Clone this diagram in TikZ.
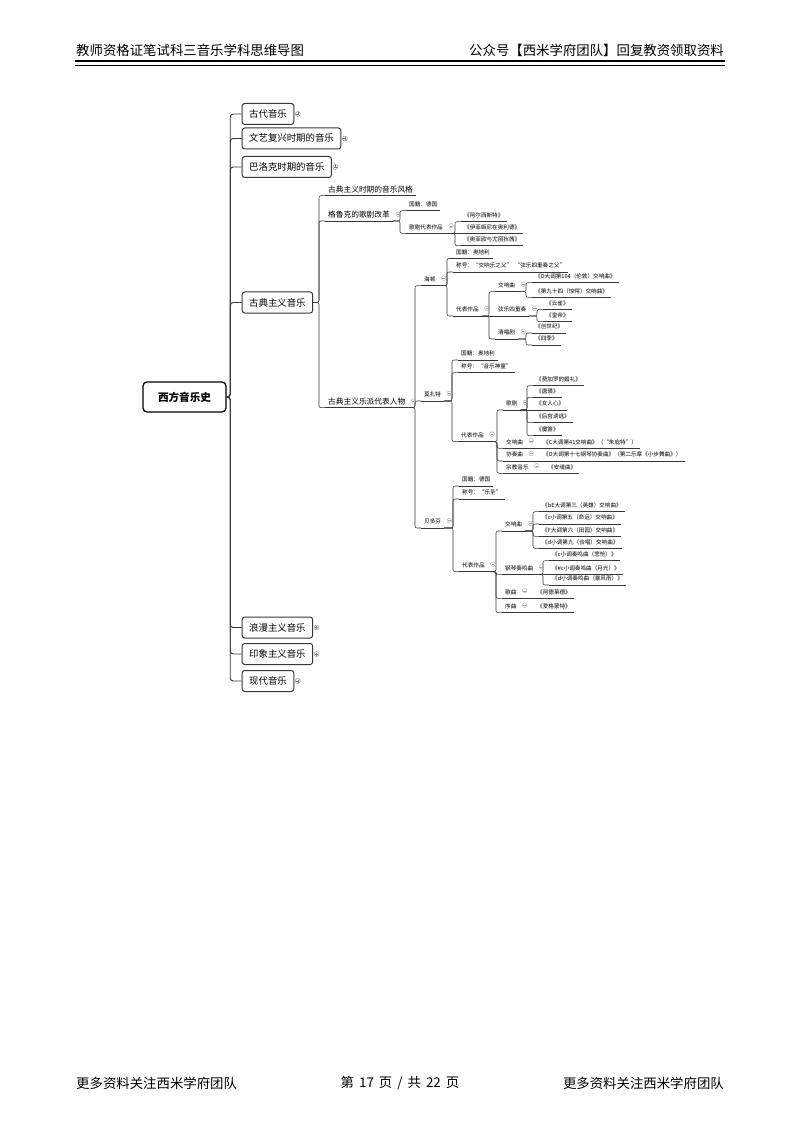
\documentclass[tikz,border=0pt]{standalone}
\usepackage{fontspec}
\setmainfont{Noto Sans CJK SC}
\definecolor{mmline}{RGB}{55,55,55}
\definecolor{mmfold}{RGB}{160,160,160}
\usetikzlibrary{positioning}

\begin{document}
\begin{tikzpicture}[x=1pt,y=-1pt,
  hdr/.style={inner sep=0pt,font=\fontsize{13.4pt}{15pt}\selectfont},
  rootbox/.style={draw=black,line width=1.3pt,rounded corners=4pt,minimum height=30pt,inner xsep=15pt,
    font=\fontsize{10.6pt}{12pt}\selectfont\bfseries},
  topic/.style={draw=mmline,line width=1pt,rounded corners=2.5pt,minimum height=21pt,inner xsep=7pt,anchor=west,
    text height=0.85em,text depth=0.15em,font=\fontsize{9.4pt}{11pt}\selectfont},
  uline/.style={append after command={(\tikzlastnode.south west) edge[draw=mmline,line width=0.55pt] (\tikzlastnode.south east)}},
  subtopic/.style={anchor=south west,inner xsep=3pt,inner ysep=1.5pt,text height=0.85em,text depth=0.15em,
    font=\fontsize{7.7pt}{9pt}\selectfont,uline},
  leaf/.style={anchor=south west,inner xsep=3pt,inner ysep=2.4pt,text height=0.85em,text depth=0.15em,
    font=\fontsize{5.6pt}{6.5pt}\selectfont,uline},
  trunk/.style={draw=mmline,line width=0.9pt,rounded corners=3pt},
  conn/.style={draw=mmline,line width=0.55pt,rounded corners=2pt},
  foldmin/.style={circle,draw=mmfold,line width=0.35pt,minimum size=4.6pt,inner sep=0pt,
    path picture={\draw[mmfold,line width=0.35pt] ([xshift=-1.3pt]path picture bounding box.center) -- ([xshift=1.3pt]path picture bounding box.center);}},
  foldplus/.style={circle,draw=gray,line width=0.4pt,minimum size=5pt,inner sep=0pt,
    path picture={\draw[gray,line width=0.4pt] ([xshift=-1.5pt]path picture bounding box.center) -- ([xshift=1.5pt]path picture bounding box.center)
      ([yshift=-1.5pt]path picture bounding box.center) -- ([yshift=1.5pt]path picture bounding box.center);}}
]
  \fill[white] (0,0) rectangle (800,1131);
  \useasboundingbox (0,0) rectangle (800,1131);

  % page header and footer
  \node[hdr,anchor=west] (hl) at (76,50) {教师资格证笔试科三音乐学科思维导图};
  \node[hdr,anchor=east] (hr) at (724,50) {公众号【西米学府团队】回复教资领取资料};
  \draw[line width=1.8pt] (75,61) -- (725,61);
  \draw[line width=0.7pt] (75,65.3) -- (725,65.3);
  \node[hdr,anchor=west] (fl) at (76,1083) {更多资料关注西米学府团队};
  \node[hdr] (fc) at (400,1083) {第\hspace{5pt}17\hspace{5pt}页\hspace{5pt}/\hspace{5pt}共\hspace{5pt}22\hspace{5pt}页};
  \node[hdr,anchor=east] (fr) at (724,1083) {更多资料关注西米学府团队};

  % main topics
  \node[rootbox] (west) at (184.5,397) {西方音乐史};
  \node[topic] (k1) at (241.7,114) {古代音乐};
  \node[topic] (k2) at (241.7,138.5) {文艺复兴时期的音乐};
  \node[topic] (k3) at (241.7,167) {巴洛克时期的音乐};
  \node[topic] (k4) at (241.7,302.5) {古典主义音乐};
  \node[topic] (k5) at (241.7,627.5) {浪漫主义音乐};
  \node[topic] (k6) at (241.7,654) {印象主义音乐};
  \node[topic] (k7) at (241.7,681) {现代音乐};
  \foreach \k in {k1,k2,k3,k4,k5,k6,k7}
    \draw[trunk] (west.east) -| ([xshift=-11.5pt]\k.west) -- (\k.west);
  \foreach \k in {k1,k2,k3,k5,k6,k7}
    \node[foldplus] (\k-f) at ([xshift=3.5pt]\k.east) {};

  % Classicism
  \node[subtopic] (s1) at (325,195.7) {古典主义时期的音乐风格};
  \node[subtopic] (s2) at (325,221) {格鲁克的歌剧改革};
  \node[subtopic] (s3) at (325,407.7) {古典主义乐派代表人物};
  \foreach \c in {s1,s2,s3}
    \draw[conn] (k4.east) -| ([xshift=-6pt]\c.south west) -- (\c.south west);

  % Gluck
  \node[leaf] (g1) at (406,210.7) {国籍：德国};
  \node[leaf] (g2) at (406,233.3) {歌剧代表作品};
  \node[leaf] (g21) at (461,221.7) {《阿尔西斯特》};
  \node[leaf] (g22) at (461,233.3) {《伊菲姬尼在奥利德》};
  \node[leaf] (g23) at (461,245.7) {《奥菲欧与尤丽狄茜》};
  \foreach \c in {g1,g2}
    \draw[conn] (s2.south east) -| ([xshift=-6pt]\c.south west) -- (\c.south west);
  \foreach \c in {g21,g23}
    \draw[conn] (g2.south east) -| ([xshift=-6pt]\c.south west) -- (\c.south west);
  \draw[conn] (g2.south east) -- (g22.south west);

  % composers
  \node[leaf] (h) at (421,285.7) {海顿};
  \node[leaf] (m) at (421,401) {莫扎特};
  \node[leaf] (b) at (421,528) {贝多芬};
  \foreach \c in {h,m,b}
    \draw[conn] (s3.south east) -| ([xshift=-6pt]\c.south west) -- (\c.south west);

  % Haydn
  \node[leaf] (h1) at (453,258.5) {国籍：奥地利};
  \node[leaf] (h2) at (453,272) {称号：“交响乐之父”\ \ “弦乐四重奏之父”};
  \node[leaf] (h3) at (453,316) {代表作品};
  \node[leaf] (h31) at (495,291.7) {交响曲};
  \node[leaf] (h32) at (495,316) {弦乐四重奏};
  \node[leaf] (h33) at (495,339) {清唱剧};
  \node[leaf] (h311) at (532,282.7) {《D大调第104（伦敦）交响曲》};
  \node[leaf] (h312) at (532,297.3) {《第九十四（惊愕）交响曲》};
  \node[leaf] (h321) at (543,309.3) {《云雀》};
  \node[leaf] (h322) at (543,321.7) {《皇帝》};
  \node[leaf] (h331) at (532,333) {《创世纪》};
  \node[leaf] (h332) at (532,345) {《四季》};
  \foreach \c in {h1,h2,h3}
    \draw[conn] (h.south east) -| ([xshift=-6pt]\c.south west) -- (\c.south west);
  \foreach \c in {h31,h33}
    \draw[conn] (h3.south east) -| ([xshift=-6pt]\c.south west) -- (\c.south west);
  \draw[conn] (h3.south east) -- (h32.south west);
  \foreach \c in {h311,h312}
    \draw[conn] (h31.south east) -| ([xshift=-6pt]\c.south west) -- (\c.south west);
  \foreach \c in {h321,h322}
    \draw[conn] (h32.south east) -| ([xshift=-6pt]\c.south west) -- (\c.south west);
  \foreach \c in {h331,h332}
    \draw[conn] (h33.south east) -| ([xshift=-6pt]\c.south west) -- (\c.south west);

  % Mozart
  \node[leaf] (m1) at (458,360) {国籍：奥地利};
  \node[leaf] (m2) at (458,372.7) {称号：“音乐神童”};
  \node[leaf] (m3) at (458,441.7) {代表作品};
  \node[leaf] (m31) at (503,410) {歌剧};
  \node[leaf] (m32) at (503,448.3) {交响曲};
  \node[leaf] (m33) at (503,461) {协奏曲};
  \node[leaf] (m34) at (503,473.3) {宗教音乐};
  \node[leaf] (m311) at (533,385.7) {《费加罗的婚礼》};
  \node[leaf] (m312) at (533,397.3) {《唐璜》};
  \node[leaf] (m313) at (533,410) {《女人心》};
  \node[leaf] (m314) at (533,422.7) {《后宫诱逃》};
  \node[leaf] (m315) at (533,435.7) {《魔笛》};
  \node[leaf] (m321) at (540,448.3) {《C大调第41交响曲》（“朱庇特”）};
  \node[leaf] (m331) at (540,461) {《D大调第十七钢琴协奏曲》（第二乐章《小步舞曲》）};
  \node[leaf] (m341) at (545,473.3) {《安魂曲》};
  \foreach \c in {m1,m2,m3}
    \draw[conn] (m.south east) -| ([xshift=-6pt]\c.south west) -- (\c.south west);
  \foreach \c in {m31,m32,m33,m34}
    \draw[conn] (m3.south east) -| ([xshift=-6pt]\c.south west) -- (\c.south west);
  \foreach \c in {m311,m312,m314,m315}
    \draw[conn] (m31.south east) -| ([xshift=-6pt]\c.south west) -- (\c.south west);
  \draw[conn] (m31.south east) -- (m313.south west);
  \draw[conn] (m32.south east) -- (m321.south west);
  \draw[conn] (m33.south east) -- (m331.south west);
  \draw[conn] (m34.south east) -- (m341.south west);

  % Beethoven
  \node[leaf] (b1) at (459,486) {国籍：德国};
  \node[leaf] (b2) at (459,499) {称号：“乐圣”};
  \node[leaf] (b3) at (459,571.7) {代表作品};
  \node[leaf] (b31) at (502,531) {交响曲};
  \node[leaf] (b32) at (502,574.3) {钢琴奏鸣曲};
  \node[leaf] (b33) at (502,598.3) {歌曲};
  \node[leaf] (b34) at (502,612.7) {序曲};
  \node[leaf] (b311) at (539,511.7) {《bE大调第三（英雄）交响曲》};
  \node[leaf] (b312) at (539,524) {《c小调第五（命运）交响曲》};
  \node[leaf] (b313) at (539,536.3) {《F大调第六（田园）交响曲》};
  \node[leaf] (b314) at (539,548.3) {《d小调第九（合唱）交响曲》};
  \node[leaf] (b321) at (549,560.7) {《c小调奏鸣曲（悲怆）》};
  \node[leaf] (b322) at (549,574.3) {《\#c小调奏鸣曲（月光）》};
  \node[leaf] (b323) at (549,585) {《d小调奏鸣曲（暴风雨）》};
  \node[leaf] (b331) at (534,598.3) {《阿德莱德》};
  \node[leaf] (b341) at (534,612.7) {《爱格蒙特》};
  \foreach \c in {b1,b2,b3}
    \draw[conn] (b.south east) -| ([xshift=-6pt]\c.south west) -- (\c.south west);
  \foreach \c in {b31,b32,b33,b34}
    \draw[conn] (b3.south east) -| ([xshift=-6pt]\c.south west) -- (\c.south west);
  \foreach \c in {b311,b312,b313,b314}
    \draw[conn] (b31.south east) -| ([xshift=-6pt]\c.south west) -- (\c.south west);
  \foreach \c in {b321,b323}
    \draw[conn] (b32.south east) -| ([xshift=-6pt]\c.south west) -- (\c.south west);
  \draw[conn] (b32.south east) -- (b322.south west);
  \draw[conn] (b33.south east) -- (b331.south west);
  \draw[conn] (b34.south east) -- (b341.south west);

  % fold buttons
  \foreach \p in {s2,s3,g2,h,h3,h31,h32,h33,m,m3,m31,m32,m33,m34,b,b3,b31,b32,b33,b34}
    \node[foldmin] (\p-f) at ([xshift=5pt]\p.east) {};
\end{tikzpicture}
\end{document}
